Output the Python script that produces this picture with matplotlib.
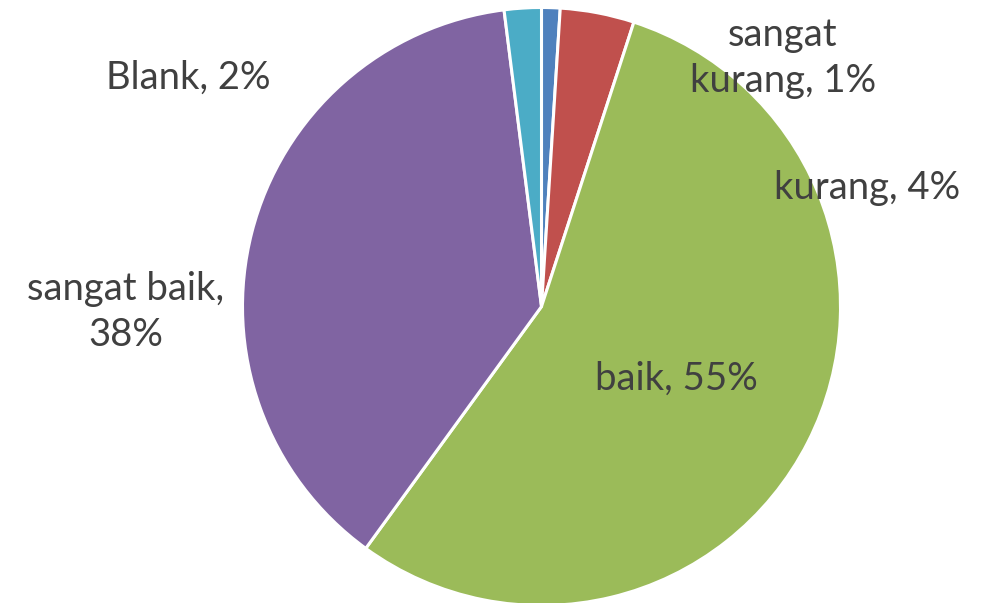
import matplotlib
matplotlib.use('Agg')
import matplotlib.pyplot as plt

# data
categories = ['sangat kurang', 'kurang', 'baik', 'sangat baik', 'Blank']
percent = [1, 4, 55, 38, 2]
colors = ['#4F81BD', '#C0504D', '#9BBB59', '#8064A2', '#4BACC6']

# where the label is broken into two lines (Excel style)
wrapped = {'sangat kurang': 'sangat\nkurang', 'sangat baik': 'sangat baik,\n'}

# label centres in pixels (x from left, y from top)
label_pos = [(783, 58), (867, 188), (676, 379), (126, 312), (188, 78)]

W, H = 981, 603
fig = plt.figure(figsize=(W / 100, H / 100), dpi=100)
ax = fig.add_axes([0, 0, 1, 1])

ax.pie(percent, colors=colors, startangle=90, counterclock=False,
       center=(541.5, H - 306.5), radius=299,
       wedgeprops=dict(edgecolor='white', linewidth=2.2))

ax.set_xlim(0, W)
ax.set_ylim(0, H)
ax.set_aspect('equal')
ax.axis('off')

for name, p, (px, py) in zip(categories, percent, label_pos):
    if name == 'sangat baik':
        txt = 'sangat baik,\n%d%%' % p
    elif name in wrapped:
        txt = '%s, %d%%' % (wrapped[name], p)
    else:
        txt = '%s, %d%%' % (name, p)
    ax.text(px, H - py, txt, ha='center', va='center', multialignment='center',
            fontsize=27.5, color='#404040', family='Lato', linespacing=1.32)

plt.savefig('out.png', dpi=100)
